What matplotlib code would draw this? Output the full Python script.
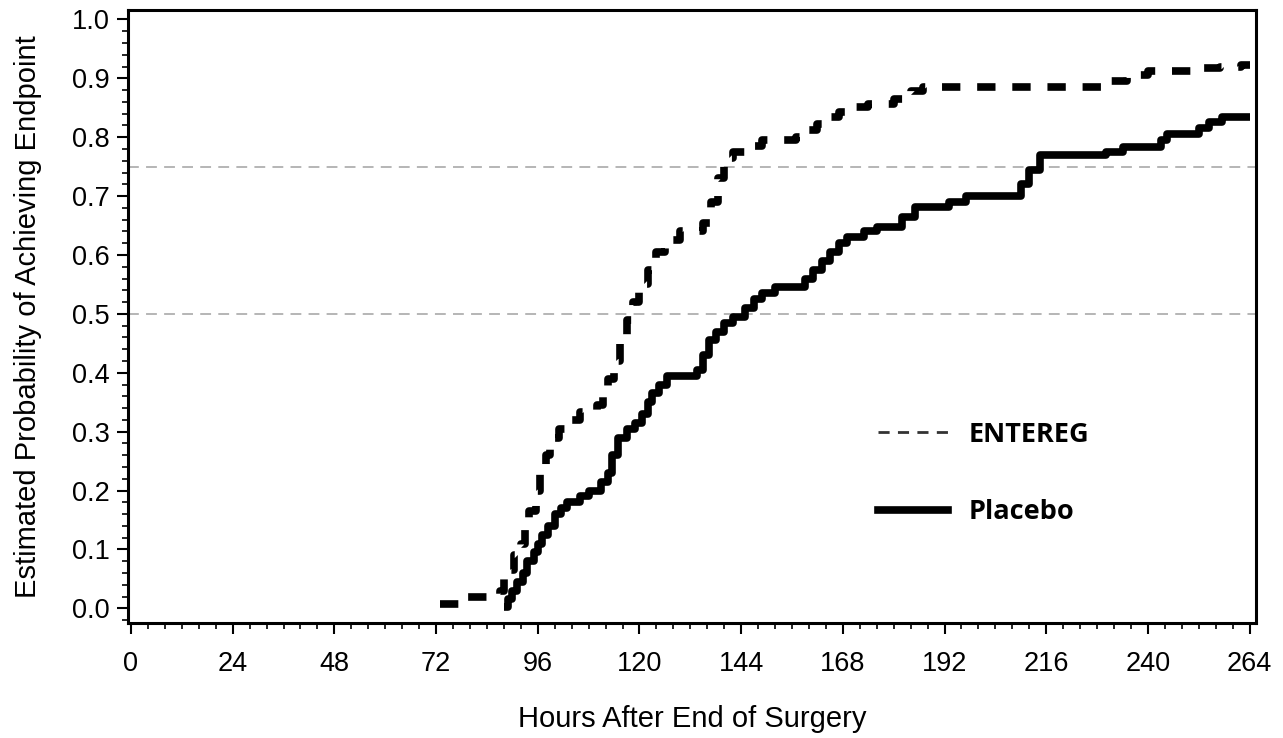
import matplotlib.pyplot as plt
from matplotlib.lines import Line2D
from matplotlib.ticker import MultipleLocator

# ENTEREG (alvimopan) - tempos de evento e probabilidade acumulada
entereg_t = [73, 79, 87, 88, 89, 90.5, 92, 93, 94, 95.5, 96.5, 98, 99, 101, 104,
             106, 110, 111.5, 112.5, 114, 115.5, 117, 118.5, 120, 122, 124, 126,
             129.5, 135, 137, 138.5, 140, 142, 146, 149, 157, 160, 162, 165, 167,
             171, 174, 180, 184, 187, 193, 230, 235, 240, 252, 257, 262, 264]
entereg_p = [0.008, 0.02, 0.03, 0.05, 0.065, 0.09, 0.11, 0.14, 0.165, 0.2, 0.23,
             0.26, 0.29, 0.305, 0.32, 0.333, 0.345, 0.365, 0.39, 0.42, 0.45, 0.49,
             0.52, 0.55, 0.575, 0.605, 0.625, 0.64, 0.655, 0.69, 0.73, 0.765, 0.775,
             0.785, 0.795, 0.8, 0.812, 0.822, 0.835, 0.842, 0.852, 0.857, 0.865,
             0.878, 0.886, 0.886, 0.895, 0.905, 0.912, 0.917, 0.92, 0.922, 0.922]

# Placebo
placebo_t = [88, 89, 90, 91, 92.5, 93.5, 95, 96, 97, 98.5, 100, 101.5, 103, 106,
             108, 111, 112.5, 113.5, 115, 117, 119, 120.5, 122, 123, 124.5, 126.5,
             133.5, 135, 136.5, 138, 140, 142, 145, 147, 149, 152, 159, 161, 163,
             165, 167, 169, 173, 176, 182, 185, 193, 197, 210, 212, 214.5, 230, 234,
             243, 244.5, 252, 254.5, 257.5, 264]
placebo_p = [0.003, 0.015, 0.03, 0.045, 0.06, 0.08, 0.095, 0.11, 0.125, 0.14, 0.16,
             0.17, 0.18, 0.19, 0.2, 0.215, 0.23, 0.26, 0.29, 0.305, 0.315, 0.33,
             0.35, 0.365, 0.38, 0.395, 0.405, 0.43, 0.455, 0.47, 0.485, 0.495, 0.51,
             0.525, 0.535, 0.545, 0.56, 0.575, 0.59, 0.605, 0.62, 0.63, 0.64, 0.648,
             0.665, 0.682, 0.69, 0.7, 0.72, 0.745, 0.77, 0.775, 0.783, 0.795, 0.806,
             0.815, 0.825, 0.835, 0.835]

ref_levels = [0.5, 0.75]
x_ticks = list(range(0, 265, 24))
y_ticks = [i / 10 for i in range(11)]

plt.rcParams['font.family'] = ['Liberation Sans', 'DejaVu Sans']

fig = plt.figure(figsize=(12.83, 7.38), dpi=100)
ax = fig.add_axes([128 / 1283, 1 - 623 / 738, (1256 - 128) / 1283, (623 - 10) / 738])

# linhas de referencia
for lvl in ref_levels:
    ax.axhline(lvl, color='#b0b0b0', lw=1.3, dashes=(6, 4), zorder=1)

ax.plot(entereg_t, entereg_p, drawstyle='steps-post', color='black', lw=5.5,
        dashes=(2.4, 2.2), dash_capstyle='butt', zorder=3)
ax.plot(placebo_t, placebo_p, drawstyle='steps-post', color='black', lw=5.5,
        solid_capstyle='butt', zorder=3)

ax.set_xlim(-0.7, 265.5)
ax.set_ylim(-0.025, 1.016)
ax.set_xticks(x_ticks)
ax.set_yticks(y_ticks)
ax.set_yticklabels([f"{v:.1f}" for v in y_ticks])
ax.xaxis.set_minor_locator(MultipleLocator(4))
ax.yaxis.set_minor_locator(MultipleLocator(0.02))
ax.tick_params(which='major', length=8, width=1.5, labelsize=19.5, direction='out')
ax.tick_params(which='minor', length=4, width=1.2, direction='out')
ax.tick_params(axis='x', pad=12)
ax.tick_params(axis='y', pad=5)
for sp in ax.spines.values():
    sp.set_linewidth(2.2)

ax.set_xlabel("Hours After End of Surgery", fontsize=21, labelpad=20)
ax.set_ylabel("Estimated Probability of Achieving Endpoint", fontsize=21, labelpad=22)

# legenda
handles = [
    Line2D([], [], color='#333333', lw=2, dashes=(4, 3)),
    Line2D([], [], color='black', lw=5.5),
]
leg = ax.legend(handles, ["ENTEREG", "Placebo"], loc='upper left',
                bbox_to_anchor=(0.643, 0.368), frameon=False, handlelength=2.6,
                handletextpad=0.75, labelspacing=1.9,
                prop={'family': 'Open Sans', 'weight': 'bold', 'size': 19.5})

fig.savefig("out.png", dpi=100)
